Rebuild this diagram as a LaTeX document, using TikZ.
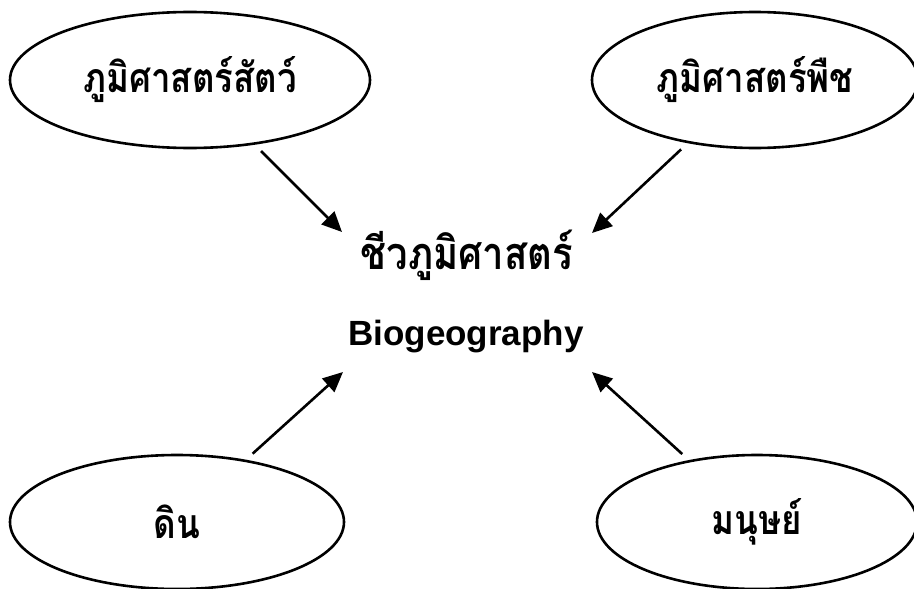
\documentclass[tikz,border=0pt]{standalone}
\usepackage{fontspec}
\setmainfont{Liberation Sans}
\newfontfamily\thaifont[Script=Thai,FakeStretch=0.85]{Loma}
\usetikzlibrary{shapes.geometric,arrows.meta}
\newcommand{\Thai}[1]{{\thaifont\bfseries #1}}
\begin{document}
\begin{tikzpicture}[x=1pt,y=-1pt,
    field/.style={ellipse,draw,line width=2.6pt,inner sep=0pt,font=\fontsize{41}{48}\selectfont},
    flow/.style={-{Triangle[length=20pt,width=18pt]},line width=2.6pt}]
\useasboundingbox (0,0) rectangle (914,589);
\node[field,minimum width=360pt,minimum height=136pt] (Zoo) at (190,80) {\Thai{ภูมิศาสตร์สัตว์}};
\node[field,minimum width=326pt,minimum height=136pt] (Phyto) at (755,80) {\Thai{ภูมิศาสตร์พืช}};
\node[field,minimum width=334pt,minimum height=134pt] (Soil) at (177,522) {\Thai{ดิน}};
\node[field,minimum width=320pt,minimum height=134pt] (Human) at (757,522) {\Thai{มนุษย์}};

\node[font=\fontsize{45}{52}\selectfont] (Bio-th) at (467,255) {\Thai{ชีวภูมิศาสตร์}};
\node[font=\fontsize{35}{42}\selectfont\bfseries] (Bio-en) at (466,337) {Biogeography};

\coordinate (In-1) at (342,232);
\coordinate (In-2) at (592,233);
\coordinate (In-3) at (343,372);
\coordinate (In-4) at (592,372);

\path[flow,shorten <=9pt] (Zoo) edge (In-1);
\path[flow,shorten <=9pt] (Phyto) edge (In-2);
\path[flow,shorten <=9pt] (Soil) edge (In-3);
\path[flow,shorten <=9pt] (Human) edge (In-4);
\end{tikzpicture}
\end{document}
